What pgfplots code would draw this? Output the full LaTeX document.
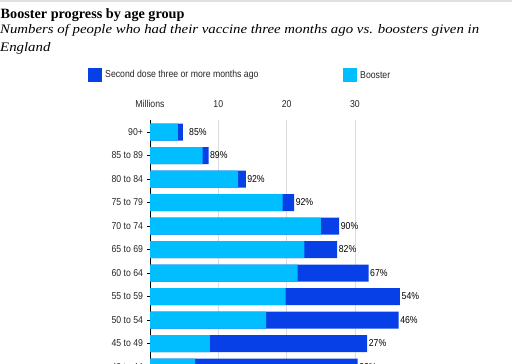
\documentclass[border=0pt]{standalone}
\usepackage{fontspec}
\setmainfont{Liberation Serif}
\setsansfont{Liberation Sans}[FakeStretch=0.87]
\newfontfamily\subfont{Liberation Serif}[FakeStretch=1.14]
\usepackage{pgfplots}
\pgfplotsset{compat=1.18}
\definecolor{boost}{RGB}{0,190,255}
\definecolor{second}{RGB}{8,64,232}
\definecolor{gridc}{RGB}{220,220,220}
\begin{document}
\begin{tikzpicture}
\useasboundingbox (0pt,0pt) rectangle (512pt,-364pt);
\clip (0pt,0pt) rectangle (512pt,-364pt);
\fill[white] (0pt,0pt) rectangle (512pt,-364pt);
\draw[black!12, line width=1.5pt] (0pt,-0.75pt) -- (512pt,-0.75pt);
\node[anchor=base west, inner sep=0pt] at (0.5pt,-18pt) {\fontsize{14.2}{16}\selectfont\bfseries Booster progress by age group};
\node[anchor=base west, inner sep=0pt] at (0pt,-34pt) {\subfont\fontsize{13}{16}\selectfont\itshape Numbers of people who had their vaccine three months ago vs. boosters given in};
\node[anchor=base west, inner sep=0pt] at (0pt,-51pt) {\subfont\fontsize{13}{16}\selectfont\itshape England};
\fill[second] (88pt,-68pt) rectangle (102pt,-82pt);
\node[anchor=west, inner sep=0pt] at (105pt,-75pt) {\sffamily\fontsize{10}{12}\selectfont\color{black!85} Second dose three or more months ago};
\fill[boost] (343pt,-68pt) rectangle (357pt,-82pt);
\node[anchor=west, inner sep=0pt] at (360pt,-75pt) {\sffamily\fontsize{10}{12}\selectfont\color{black!85} Booster};
\begin{axis}[
  scale only axis, width=273.2pt, height=258.5pt,
  at={(150pt,-120.25pt)}, anchor=north west,
  xmin=0, xmax=40, ymin=-0.5, ymax=10.5,
  axis y line*=left, axis x line*=top,
  x axis line style={draw=none},
  xtick={0,10,20,30}, xticklabels={Millions,10,20,30},
  xmajorgrids, grid style={gridc, line width=0.8pt},
  x tick style={draw=none},
  xticklabel style={yshift=6pt},
  ytick={0,...,10},
  yticklabels={40 to 44,45 to 49,50 to 54,55 to 59,60 to 64,65 to 69,70 to 74,75 to 79,80 to 84,85 to 89,90+},
  y tick style={black, line width=0.6pt},
  tick align=outside, major tick length=3.5pt,
  y axis line style={black, line width=0.8pt},
  tick label style={font=\sffamily\fontsize{10}{12}\selectfont, text=black!85},
  /pgf/number format/assume math mode=true,
  clip=false,
]
\addplot[xbar, bar width=17pt, bar shift=0pt, fill=second, draw=none]
  coordinates {(30.4,0) (31.8,1) (36.4,2) (36.6,3) (32.0,4) (27.4,5) (27.7,6) (21.1,7) (14.02,8) (8.58,9) (4.81,10)};
\addplot[xbar, bar width=17pt, bar shift=0pt, fill=boost, draw=none]
  coordinates {(6.6,0) (8.77,1) (17.0,2) (19.85,3) (21.6,4) (22.6,5) (25.0,6) (19.4,7) (12.9,8) (7.7,9) (4.07,10)};
\addplot[only marks, mark=none, nodes near coords={\pgfplotspointmeta\%},
  point meta=explicit symbolic,
  nodes near coords style={anchor=west, inner sep=0.8pt, font=\sffamily\fontsize{10}{12}\selectfont, text=black}]
  table[meta=lab] {
x y lab
30.5 0 22
31.9 1 27
36.5 2 46
36.7 3 54
32.1 4 67
27.5 5 82
27.8 6 90
21.2 7 92
14.1 8 92
8.65 9 89
5.6 10 85
};
\end{axis}
\end{tikzpicture}
\end{document}
